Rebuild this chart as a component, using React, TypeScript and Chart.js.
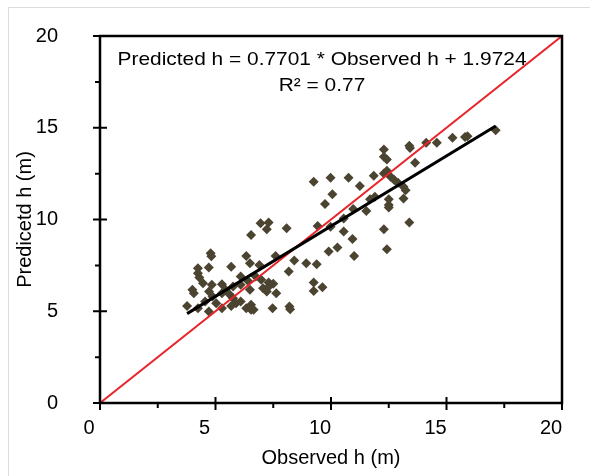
import { useEffect, useRef } from "react";
import { Chart, registerables } from "chart.js";

Chart.register(...registerables);

const observed = [
  17.13, 15.91, 15.8, 15.26, 14.58, 14.12, 13.39, 13.42, 13.64, 12.29,
  12.29, 12.42, 12.29, 12.42, 11.85, 12.58, 12.74, 12.9, 13.14, 13.23,
  13.14, 12.5, 12.5, 12.5, 11.9, 11.69, 11.53, 11.25, 10.76, 10.96,
  10.55, 10.55, 10.93, 11.0, 13.39, 12.29, 12.42, 9.98, 10.06, 9.74,
  9.25, 9.42, 9.98, 9.9, 10.28, 8.93, 9.38, 9.25, 9.25, 9.63,
  8.08, 7.3, 6.95, 7.22, 6.54, 8.41, 7.6, 8.17, 8.2, 8.23,
  7.47, 6.33, 6.49, 6.9, 5.68, 4.24, 4.71, 4.79, 4.82, 4.24,
  4.3, 4.46, 4.84, 5.28, 5.44, 4.0, 4.06, 4.72, 4.87, 5.28,
  5.6, 6.09, 6.41, 6.74, 6.98, 7.3, 7.06, 7.22, 7.63, 5.76,
  5.89, 5.68, 5.28, 4.71, 4.24, 5.03, 4.55, 6.09, 6.33, 6.54,
  6.54, 6.65, 6.49, 5.76, 6.09, 3.77, 7.35, 7.5,
];
const predicted = [
  14.87, 14.54, 14.5, 14.45, 14.18, 14.18, 14.02, 13.9, 13.09, 13.82,
  13.42, 13.27, 12.51, 12.66, 12.38, 12.33, 12.15, 12.0, 11.79, 11.6,
  11.15, 11.1, 10.79, 10.66, 11.24, 11.1, 10.46, 11.82, 12.28, 10.57,
  10.06, 9.34, 8.94, 8.01, 9.83, 9.47, 8.38, 12.28, 11.37, 10.84,
  12.06, 9.65, 9.61, 8.25, 8.47, 7.62, 7.56, 6.56, 6.11, 6.31,
  9.52, 9.83, 9.79, 9.47, 9.16, 7.76, 8.01, 7.16, 5.26, 5.11,
  5.17, 8.01, 7.62, 7.52, 7.43, 7.34, 7.38, 8.16, 8.0, 7.07,
  6.84, 6.53, 6.44, 6.47, 6.17, 6.17, 5.98, 6.07, 5.8, 5.98,
  5.93, 6.89, 6.65, 6.89, 6.71, 6.56, 6.26, 6.07, 5.98, 5.71,
  5.44, 5.29, 5.17, 4.99, 5.17, 5.44, 5.53, 5.53, 5.17, 5.35,
  5.08, 5.08, 6.17, 6.35, 6.44, 5.29, 6.4, 6.5,
];

const fitX = [3.77, 17.13];
const fitY = [4.87, 15.1];
const oneToOneX = [0, 20];
const oneToOneY = [0, 20];

const axisMin = 0;
const axisMax = 20;
const majorStep = 5;
const minorStep = 2.5;

const equationText = "Predicted h = 0.7701 * Observed h + 1.9724";
const r2Text = "R² = 0.77";
const xTitle = "Observed h (m)";
const yTitle = "Predicetd h (m)";

const FONT = '"Liberation Sans", Arial, Helvetica, sans-serif';

const framePlugin = {
  id: "frame",
  afterDraw(chart: any) {
    const { ctx, chartArea: a, scales } = chart;
    const xs = scales.x;
    const ys = scales.y;
    ctx.save();
    ctx.strokeStyle = "#000";
    ctx.lineWidth = 2.5;
    ctx.strokeRect(a.left, a.top, a.right - a.left, a.bottom - a.top);
    ctx.lineWidth = 2;
    ctx.beginPath();
    for (let v = axisMin; v <= axisMax + 1e-9; v += minorStep) {
      const major = Math.abs(v % majorStep) < 1e-9;
      const px = xs.getPixelForValue(v);
      const py = ys.getPixelForValue(v);
      if (major) {
        ctx.moveTo(px, a.bottom - 6);
        ctx.lineTo(px, a.bottom + 7);
        ctx.moveTo(a.left - 7, py);
        ctx.lineTo(a.left + 7, py);
      } else {
        ctx.moveTo(px, a.bottom);
        ctx.lineTo(px, a.bottom + 5);
        ctx.moveTo(a.left - 5, py);
        ctx.lineTo(a.left, py);
      }
    }
    ctx.stroke();

    ctx.fillStyle = "#000";
    ctx.font = `19px ${FONT}`;
    ctx.textAlign = "center";
    ctx.textBaseline = "alphabetic";
    const cx = (a.left + a.right) / 2 - 9;
    ctx.translate(cx, 0);
    ctx.scale(1.1, 1);
    ctx.fillText(equationText, 0, a.top + 29);
    ctx.fillText(r2Text, 0, a.top + 55);
    ctx.restore();
  },
};

export default function App() {
  const ref = useRef<HTMLCanvasElement | null>(null);

  useEffect(() => {
    if (!ref.current) return;
    const points = observed.map((x, i) => ({ x, y: predicted[i] }));
    const fit = fitX.map((x, i) => ({ x, y: fitY[i] }));
    const diag = oneToOneX.map((x, i) => ({ x, y: oneToOneY[i] }));

    const chart = new Chart(ref.current, {
      type: "scatter",
      data: {
        datasets: [
          {
            type: "line",
            data: fit,
            borderColor: "#000000",
            borderWidth: 3,
            pointRadius: 0,
            fill: false,
          } as any,
          {
            type: "line",
            data: diag,
            borderColor: "#e8242a",
            borderWidth: 2,
            pointRadius: 0,
            fill: false,
          } as any,
          {
            data: points,
            pointStyle: "rectRot",
            pointRadius: 5,
            backgroundColor: "#4b4431",
            borderWidth: 0,
          },
        ],
      },
      options: {
        animation: false,
        responsive: true,
        maintainAspectRatio: false,
        layout: { padding: { left: 0, top: 36, right: 28, bottom: 0 } },
        plugins: {
          legend: { display: false },
          tooltip: { enabled: false },
        },
        scales: {
          x: {
            type: "linear",
            min: axisMin,
            max: axisMax,
            afterFit: (s: any) => {
              s.height = 73;
              s.paddingLeft = 0;
              s.paddingRight = 0;
            },
            grid: { display: false, drawTicks: false },
            border: { display: false },
            ticks: {
              stepSize: majorStep,
              padding: 13,
              labelOffset: -11,
              color: "#000",
              font: { family: FONT, size: 20 },
            },
            title: {
              display: true,
              text: xTitle,
              color: "#000",
              font: { family: FONT, size: 20 },
              padding: { top: 0, bottom: 6 },
            },
          },
          y: {
            type: "linear",
            min: axisMin,
            max: axisMax,
            afterFit: (s: any) => {
              s.width = 100;
              s.paddingTop = 0;
              s.paddingBottom = 0;
            },
            grid: { display: false, drawTicks: false },
            border: { display: false },
            ticks: {
              stepSize: majorStep,
              padding: 42,
              color: "#000",
              font: { family: FONT, size: 20 },
            },
            title: {
              display: true,
              text: yTitle,
              color: "#000",
              font: { family: FONT, size: 20 },
              padding: { top: 13, bottom: 0 },
            },
          },
        },
      },
      plugins: [framePlugin],
    });
    return () => chart.destroy();
  }, []);

  return (
    <div style={{ position: "absolute", left: 0, top: 0, width: 590, height: 476, background: "#fff", overflow: "hidden" }}>
      <div
        style={{
          position: "absolute",
          left: 8,
          top: 7,
          width: 600,
          height: 500,
          border: "1px solid #dcdcdc",
        }}
      />
      <div style={{ position: "absolute", left: 0, top: 0, width: 590, height: 476 }}>
        <canvas ref={ref} />
      </div>
    </div>
  );
}
